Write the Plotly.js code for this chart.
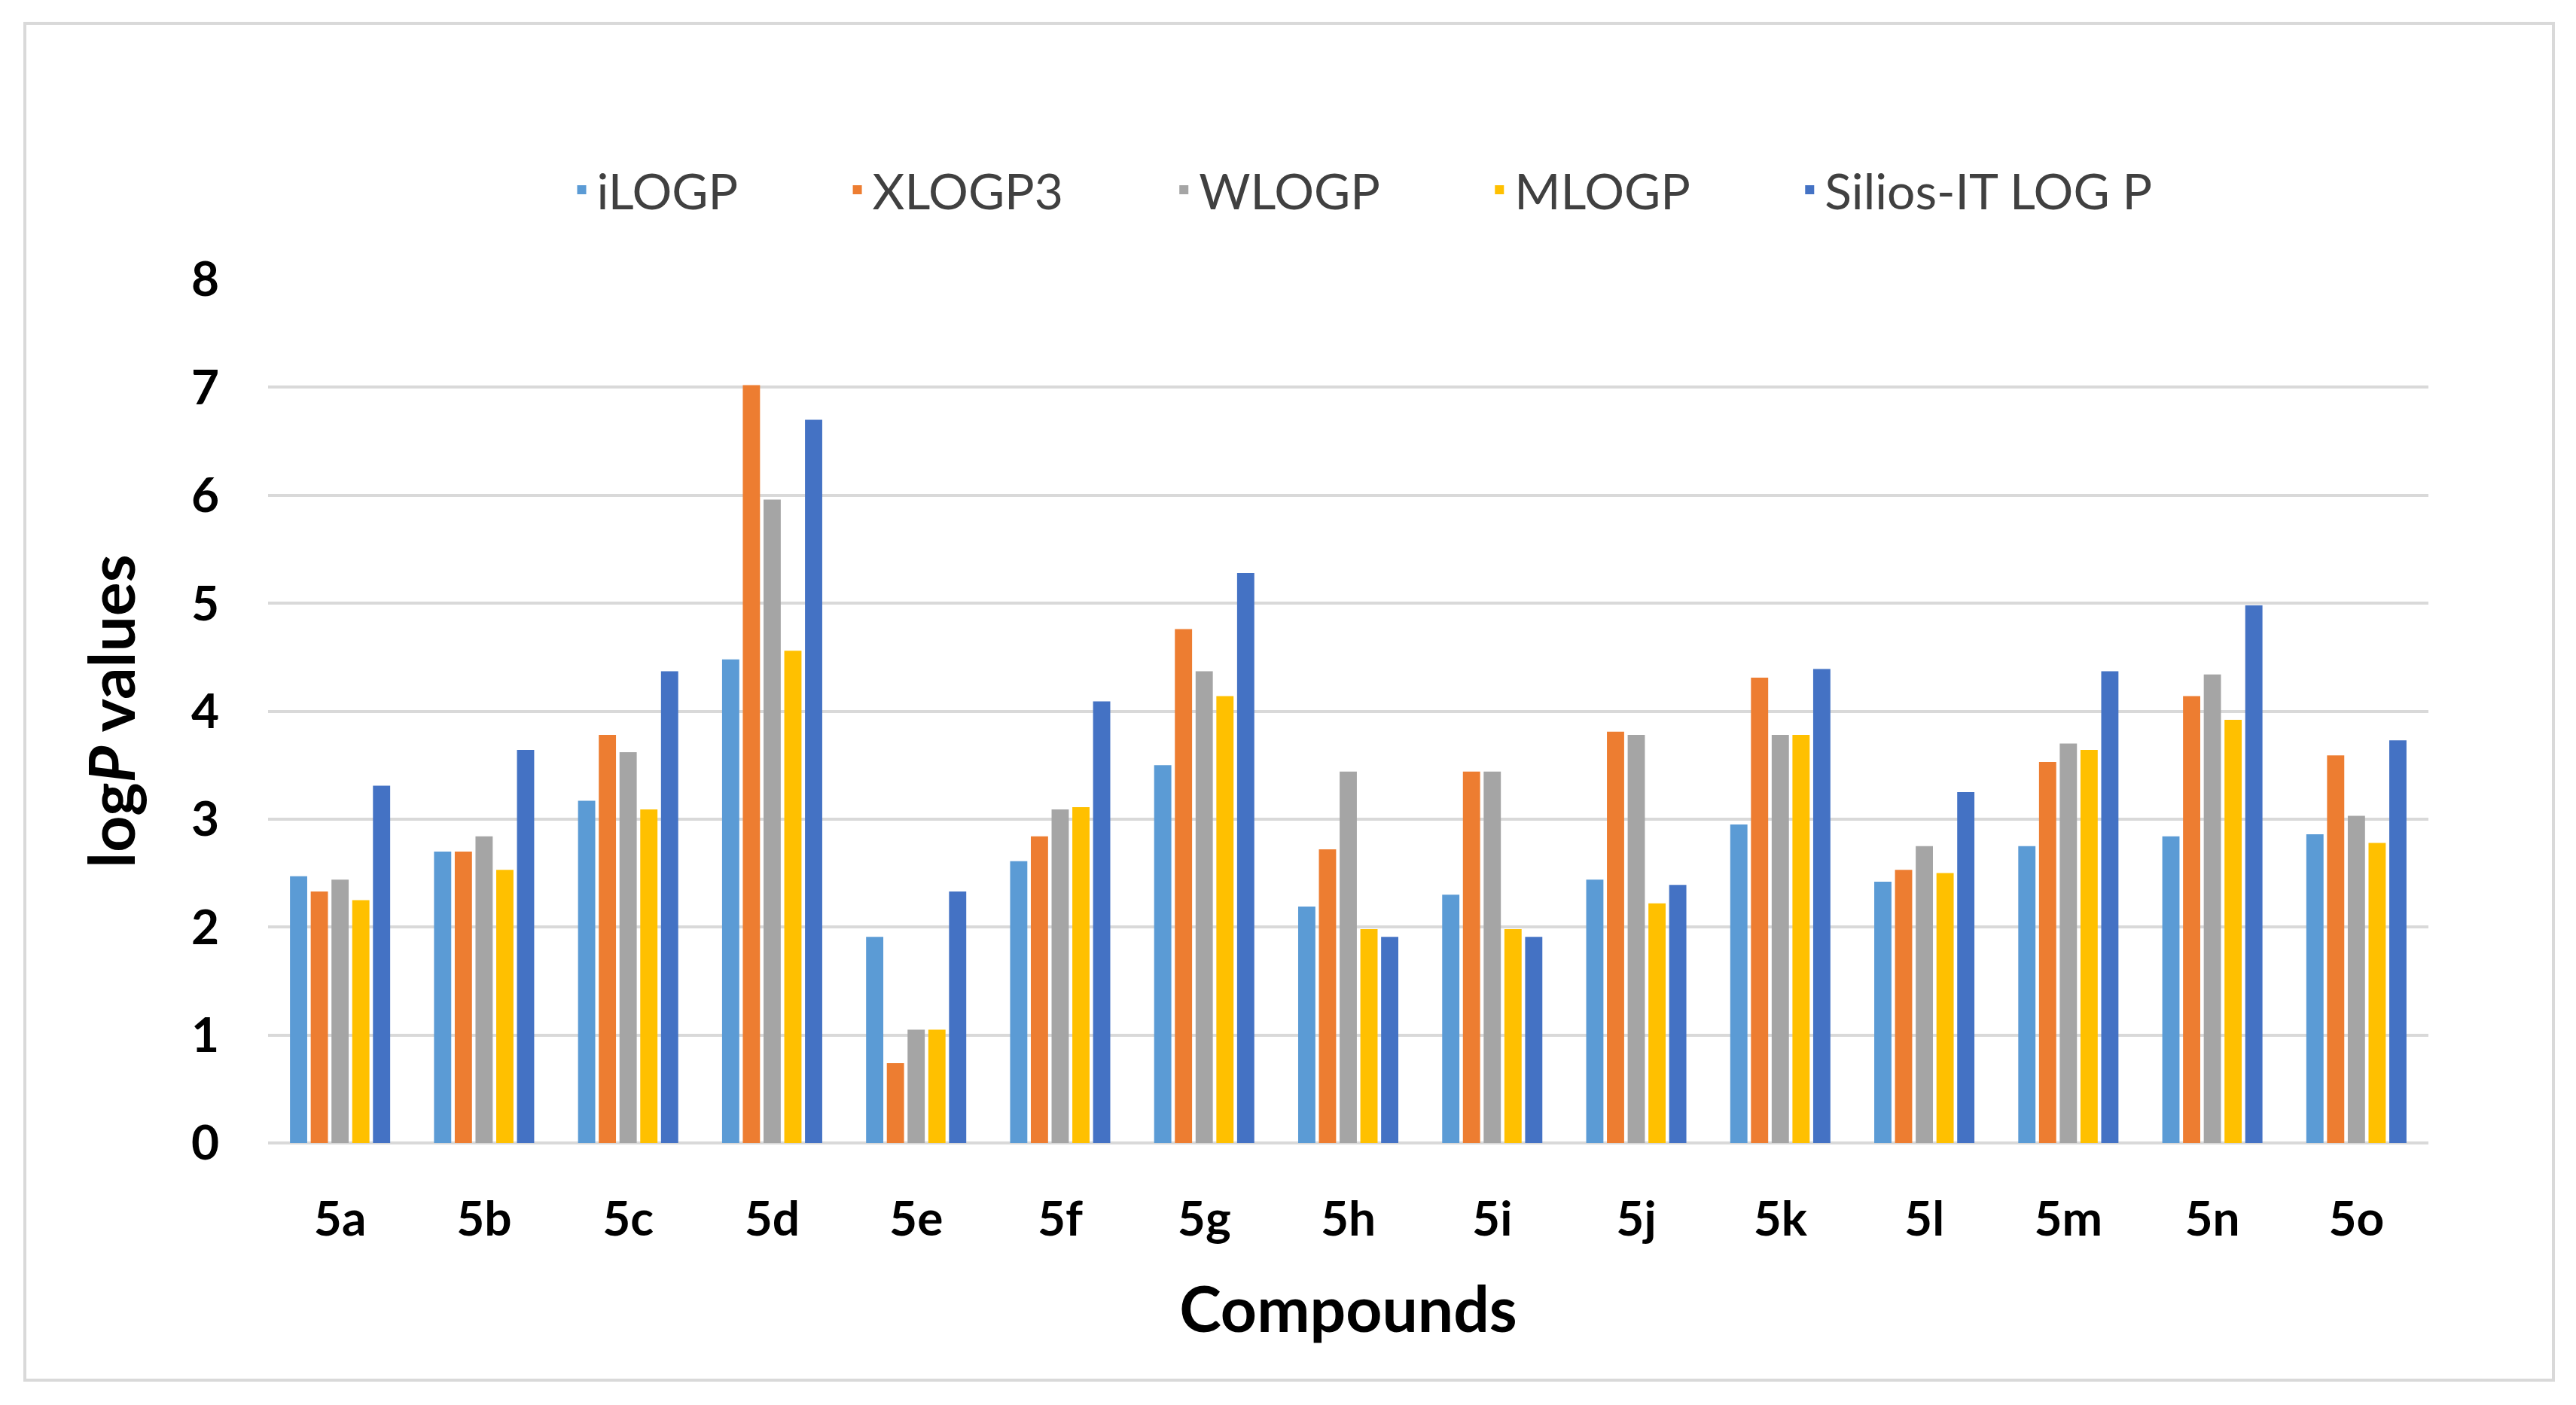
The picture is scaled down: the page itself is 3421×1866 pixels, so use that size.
<!DOCTYPE html>
<html>
<head>
<meta charset="utf-8">
<script src="https://cdn.plot.ly/plotly-3.0.1.min.js"></script>
<style>html,body{margin:0;padding:0;background:#fff;}#chart{width:3421px;height:1866px;}</style>
</head>
<body>
<div id="chart"></div>
<script>
const compounds = ["5a","5b","5c","5d","5e","5f","5g","5h","5i","5j","5k","5l","5m","5n","5o"];
const iLOGP   = [2.47,2.70,3.17,4.48,1.91,2.61,3.50,2.19,2.30,2.44,2.95,2.42,2.75,2.84,2.86];
const XLOGP3  = [2.33,2.70,3.78,7.02,0.74,2.84,4.76,2.72,3.44,3.81,4.31,2.53,3.53,4.14,3.59];
const WLOGP   = [2.44,2.84,3.62,5.96,1.05,3.09,4.37,3.44,3.44,3.78,3.78,2.75,3.70,4.34,3.03];
const MLOGP   = [2.25,2.53,3.09,4.56,1.05,3.11,4.14,1.98,1.98,2.22,3.78,2.50,3.64,3.92,2.78];
const SILICOS = [3.31,3.64,4.37,6.70,2.33,4.09,5.28,1.91,1.91,2.39,4.39,3.25,4.37,4.98,3.73];
const seriesNames = ["iLOGP","XLOGP3","WLOGP","MLOGP","Silios-IT LOG P"];
const seriesColors = ["#5B9BD5","#ED7D31","#A5A5A5","#FFC000","#4472C4"];
const seriesValues = [iLOGP, XLOGP3, WLOGP, MLOGP, SILICOS];
const yTicks = [0,1,2,3,4,5,6,7,8];

const pad = '\u00A0'.repeat(8);
const traces = seriesNames.map((n,i)=>({
  type:'bar', name: i < seriesNames.length-1 ? n + pad : n, x:compounds, y:seriesValues[i],
  marker:{color:seriesColors[i], line:{width:0}}
}));

const W=3421,H=1866, L=356, R=196, T=371, B=348;
const pw=W-L-R, ph=H-T-B;
const px=v=>(v-L)/pw, py=v=>(H-B-v)/ph;

const font='Lato, "Open Sans", sans-serif';
const layout={
  width:W, height:H,
  margin:{l:L,r:R,t:T,b:B,pad:0},
  paper_bgcolor:'#ffffff', plot_bgcolor:'#ffffff',
  barmode:'group', bargap:0.28, bargroupgap:0.17,
  font:{family:font, color:'#000'},
  showlegend:true,
  legend:{orientation:'h', x:px(1808), xanchor:'center', y:py(252), yanchor:'middle',
    font:{size:66, color:'#404040', family:font}, traceorder:'normal', itemwidth:30, bgcolor:'rgba(0,0,0,0)'},
  xaxis:{
    type:'category', tickvals:compounds, ticktext:compounds,
    showgrid:false, zeroline:false, showline:false, ticks:'',
    tickfont:{size:64, family:font, color:'#000', weight:'bold'},
    ticklabelstandoff:58,
    title:{text:'<b>Compounds</b>', font:{size:84, family:font, color:'#000'}, standoff:56}
  },
  yaxis:{
    range:[0,8], tickvals:yTicks, ticktext:yTicks.map(String),
    showgrid:true, gridcolor:'#D9D9D9', gridwidth:4,
    zeroline:true, zerolinecolor:'#D9D9D9', zerolinewidth:4,
    showline:false, ticks:'',
    tickfont:{size:64, family:font, color:'#000', weight:'bold'},
    ticklabelstandoff:64,
    title:{text:'<b>log<i>P</i> values</b>', font:{size:84, family:font, color:'#000'}, standoff:46}
  },
  shapes:[{type:'rect', xref:'paper', yref:'paper', x0:px(33), x1:px(3391), y0:py(1833), y1:py(31),
    line:{color:'#D9D9D9', width:4}, fillcolor:'rgba(0,0,0,0)', layer:'below'}]
};
Plotly.newPlot('chart', traces, layout, {displayModeBar:false, staticPlot:true});
</script>
</body>
</html>
